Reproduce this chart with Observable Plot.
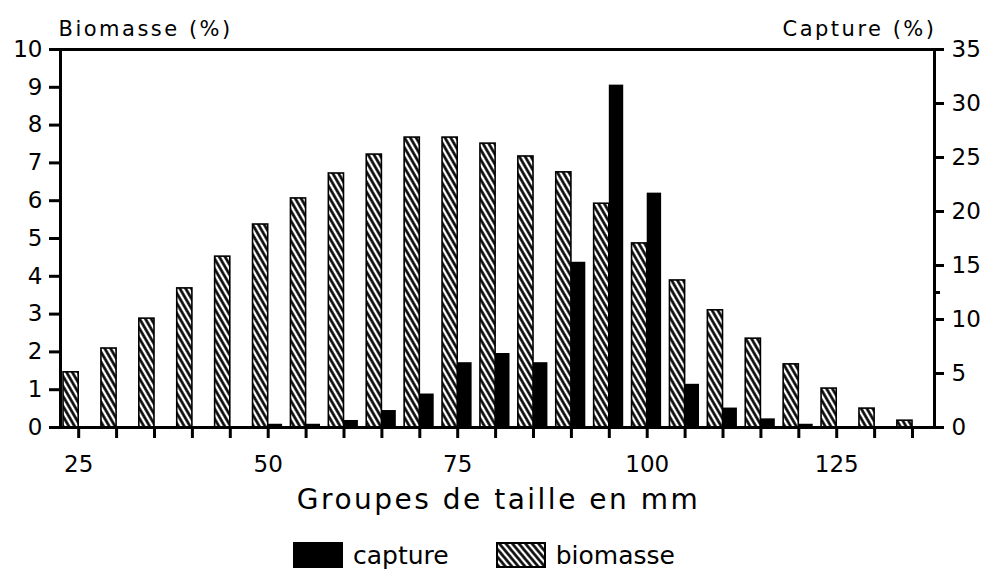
<!DOCTYPE html>
<html><head><meta charset="utf-8">
<script src="https://cdn.jsdelivr.net/npm/d3@7"></script>
<script src="https://cdn.jsdelivr.net/npm/@observablehq/plot@0.6"></script>
<style>
body{margin:0;background:#fff;font-family:"DejaVu Sans",sans-serif;color:#000;}
#wrap{position:relative;width:987px;height:571px;overflow:hidden;}
#legend{position:absolute;left:293px;top:542px;display:flex;align-items:center;font-size:25px;line-height:1;}
.sw{width:50px;height:26px;display:block;}
.lab{margin-left:10px;}
</style></head><body>
<div id="wrap"><div id="chart"></div>
<div id="legend">
  <svg class="sw" width="50" height="26"><rect width="50" height="26" fill="black"/></svg><span class="lab" style="margin-right:47px">capture</span>
  <svg class="sw" width="50" height="26"><defs><pattern id="hatchL" patternUnits="userSpaceOnUse" width="5" height="5" patternTransform="rotate(-40)"><rect width="5" height="5" fill="white"/><line x1="1.5" x2="1.5" y1="0" y2="5" stroke="black" stroke-width="2.6"/></pattern></defs><rect x="1" y="1" width="48" height="24" fill="url(#hatchL)" stroke="black" stroke-width="2"/></svg><span class="lab">biomasse</span>
</div>
</div>
<script>
const sizes = [25,30,35,40,45,50,55,60,65,70,75,80,85,90,95,100,105,110,115,120,125,130,135];
const biomasse = [1.46,2.09,2.88,3.68,4.52,5.37,6.06,6.72,7.22,7.67,7.67,7.51,7.17,6.75,5.92,4.87,3.89,3.1,2.35,1.67,1.03,0.5,0.18];
const capture = [0,0,0,0,0,0.3,0.3,0.65,1.57,3.1,6.0,6.85,6.0,15.3,31.7,21.7,4.0,1.8,0.8,0.3,0,0,0];
const leftTicks = [0,1,2,3,4,5,6,7,8,9,10];
const rightTicks = [0,5,10,15,20,25,30,35];
const xLabels = [25,50,75,100,125];

const fx = 10/35; // capture (0-35) mapped onto the biomass scale (0-10)
const data = sizes.map((s,i)=>({size:s, biomasse:biomasse[i], capture:capture[i]}));

const chart = Plot.plot({
  width:987, height:525,
  marginLeft:60, marginRight:53, marginTop:49, marginBottom:98,
  style:{fontFamily:"DejaVu Sans, sans-serif", fontSize:"23px", color:"black", background:"white", overflow:"visible"},
  x:{domain:[22.6,137.9]},
  y:{domain:[0,10]},
  marks:[
    Plot.rectY(data,{x1:d=>d.size-2.0, x2:d=>d.size, y:"biomasse", fill:"url(#hatch)", stroke:"black", strokeWidth:1.6}),
    Plot.rectY(data.filter(d=>d.capture>0),{x1:d=>d.size, x2:d=>d.size+1.9, y:d=>d.capture*fx, fill:"black"}),
    Plot.axisY(leftTicks,{anchor:"left", tickSize:11, tickPadding:7, strokeWidth:3, label:null}),
    Plot.axisY(rightTicks.map(c=>c*fx),{anchor:"right", tickFormat:d=>String(Math.round(d/fx)), tickSize:9, tickPadding:8, strokeWidth:3, label:null}),
    Plot.axisY([12.5*fx],{anchor:"right", tickFormat:()=>"", tickSize:5, strokeWidth:3, label:null}),
    Plot.axisX(sizes,{anchor:"bottom", tickFormat:d=>xLabels.includes(d)?String(d):"", tickSize:11, tickPadding:17, strokeWidth:3, label:null}),
    Plot.frame({strokeWidth:3}),
    Plot.text(["Biomasse (%)"],{text:d=>d, frameAnchor:"top-left", textAnchor:"start", lineAnchor:"middle", dy:-20, dx:-2, fontSize:21}),
    Plot.text(["Capture (%)"],{text:d=>d, frameAnchor:"top-right", textAnchor:"end", lineAnchor:"middle", dy:-20, dx:2, fontSize:21}),
    Plot.text(["Groupes de taille en mm"],{text:d=>d, frameAnchor:"bottom", lineAnchor:"middle", dy:73, dx:1, fontSize:28})
  ]
});

const spacing = {"Biomasse (%)":"2.5px","Capture (%)":"2.5px","Groupes de taille en mm":"2.5px"};
d3.select(chart).selectAll("text").each(function(){
  const s = spacing[this.textContent];
  if (s) this.setAttribute("letter-spacing", s);
});

const defs = d3.select(chart).insert("defs",":first-child");
const p = defs.append("pattern").attr("id","hatch").attr("patternUnits","userSpaceOnUse")
  .attr("width",5).attr("height",5).attr("patternTransform","rotate(-30)");
p.append("rect").attr("width",5).attr("height",5).attr("fill","white");
p.append("line").attr("x1",1.5).attr("x2",1.5).attr("y1",0).attr("y2",5).attr("stroke","black").attr("stroke-width",2.6);

document.getElementById("chart").appendChild(chart);
</script>
</body></html>
